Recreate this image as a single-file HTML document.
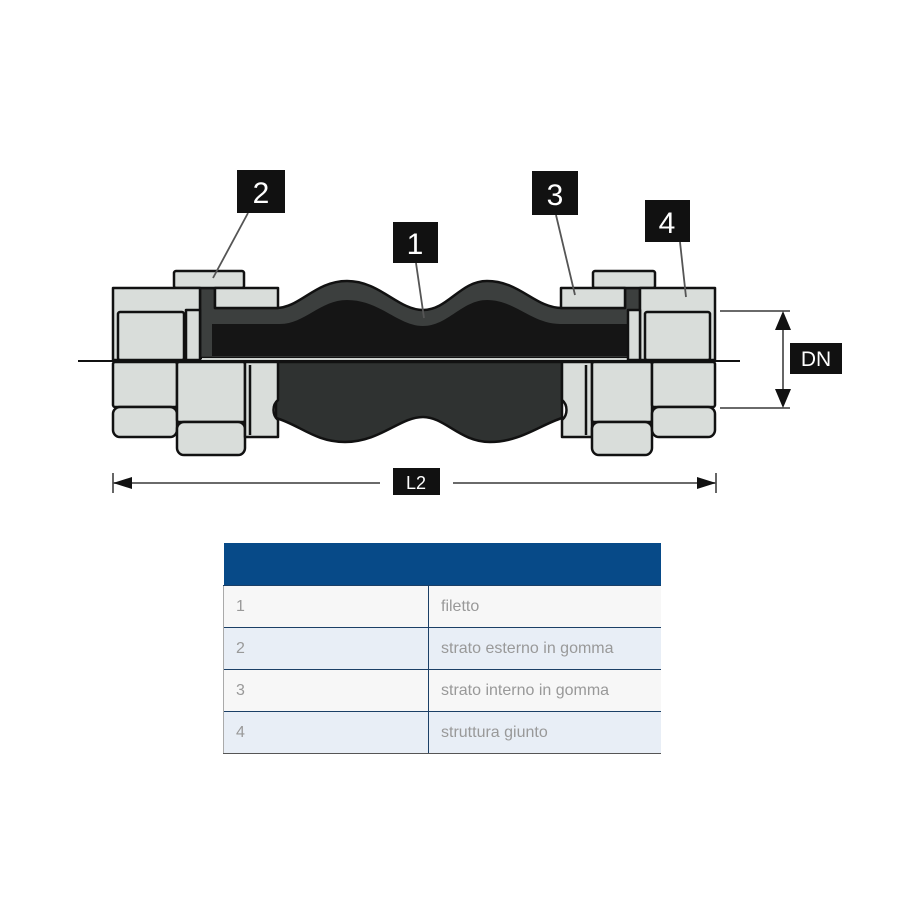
<!DOCTYPE html>
<html><head><style>
body{margin:0;background:#fff;width:900px;height:900px;overflow:hidden;font-family:"Liberation Sans","DejaVu Sans",sans-serif}
svg{position:absolute;left:0;top:0}
.tbl{position:absolute;left:223px;top:543px;width:438px;border-collapse:collapse;font-size:16px;color:#999}
.tbl td{height:41px;padding:0 0 0 12px;border-top:1px solid #1b3f66}
</style></head><body>
<svg width="900" height="900" viewBox="0 0 900 900">
<g stroke="#111" stroke-width="2.5" stroke-linejoin="round">
<line x1="78" y1="361" x2="740" y2="361" stroke-width="2"/>
<path d="M276 362 L562 362 L562 418 C540 425 520 442 490 442 C460 442 445 417 423 417 C400 417 380 442 345 442 C315 442 300 425 276 418 Z" fill="#2f3231"/>
<path d="M200 288 L215 288 L215 308 L276 308 C300 308 315 281 347 281 C380 281 398 310 423 310 C448 310 460 281 487 281 C520 281 535 308 562 308 L625 308 L625 288 L640 288 L640 358 L200 358 Z" fill="#3c3f3e"/>
<path d="M212 324 L280 324 C305 324 320 300 347 300 C380 300 398 326 423 326 C448 326 462 300 487 300 C515 300 532 324 560 324 L632 324 L632 356 L212 356 Z" fill="#151515" stroke="none"/>
<line x1="202" y1="359" x2="638" y2="359" stroke="#cfd3d0" stroke-width="2"/>
</g>
<g fill="#d9ddda" stroke="#111" stroke-width="2.5" stroke-linejoin="round">
<rect x="174" y="271" width="70" height="17" rx="2"/>
<path d="M113 288 L200 288 L200 360 L113 360 Z"/>
<path d="M215 288 L278 288 L278 308 L215 308 Z"/>
<rect x="118" y="312" width="66" height="48" rx="2"/>
<rect x="186" y="310" width="14" height="50"/>
<rect x="113" y="362" width="64" height="45" rx="2"/>
<rect x="113" y="407" width="64" height="30" rx="7"/>
<rect x="177" y="362" width="68" height="60" rx="2"/>
<rect x="177" y="422" width="68" height="33" rx="7"/>
<path d="M245 362 L278 362 L278 400 C272 405 272 415 278 420 L278 437 L245 437 Z"/>
<line x1="250" y1="365" x2="250" y2="435"/>
<rect x="593" y="271" width="62" height="17" rx="2"/>
<path d="M561 288 L625 288 L625 308 L561 308 Z"/>
<path d="M640 288 L715 288 L715 360 L640 360 Z"/>
<rect x="645" y="312" width="65" height="48" rx="2"/>
<rect x="628" y="310" width="12" height="50"/>
<path d="M562 362 L592 362 L592 437 L562 437 L562 420 C568 415 568 405 562 400 Z"/>
<line x1="586" y1="365" x2="586" y2="435"/>
<rect x="592" y="362" width="60" height="60" rx="2"/>
<rect x="592" y="422" width="60" height="33" rx="7"/>
<rect x="652" y="362" width="63" height="45" rx="2"/>
<rect x="652" y="407" width="63" height="30" rx="7"/>
</g>
<g stroke="#555" stroke-width="1.8">
<line x1="248" y1="213" x2="213" y2="278"/>
<line x1="416" y1="263" x2="424" y2="318"/>
<line x1="556" y1="215" x2="575" y2="295"/>
<line x1="680" y1="242" x2="686" y2="297"/>
<line x1="720" y1="311" x2="790" y2="311"/>
<line x1="720" y1="408" x2="790" y2="408"/>
<line x1="783" y1="320" x2="783" y2="400"/>
<line x1="113" y1="483" x2="380" y2="483"/>
<line x1="453" y1="483" x2="716" y2="483"/>
<line x1="113" y1="473" x2="113" y2="493"/>
<line x1="716" y1="473" x2="716" y2="493"/>
</g>
<g fill="#111">
<path d="M783 311 L775 330 L791 330 Z"/><path d="M783 408 L775 389 L791 389 Z"/>
<path d="M113 483 L132 477 L132 489 Z"/><path d="M716 483 L697 477 L697 489 Z"/>
<rect x="237" y="170" width="48" height="43"/>
<rect x="393" y="222" width="45" height="41"/>
<rect x="532" y="171" width="46" height="44"/>
<rect x="645" y="200" width="45" height="42"/>
<rect x="790" y="343" width="52" height="31"/>
<rect x="393" y="468" width="47" height="27"/>
</g>
<g fill="#fff" font-family="Liberation Sans, sans-serif" text-anchor="middle">
<text x="261" y="203" font-size="30">2</text>
<text x="415" y="254" font-size="30">1</text>
<text x="555" y="205" font-size="30">3</text>
<text x="667" y="233" font-size="30">4</text>
<text x="816" y="366" font-size="21">DN</text>
<text x="416" y="489" font-size="18">L2</text>
</g>
</svg>
<table class="tbl">
<tr><td colspan="2" style="background:#074a88;height:42px;border:none"></td></tr>
<tr style="background:#f7f7f7"><td style="width:192px;border-left:1px solid #aaa">1</td><td style="border-left:1px solid #1b3f66">filetto</td></tr>
<tr style="background:#e8eef6"><td style="border-left:1px solid #aaa">2</td><td style="border-left:1px solid #1b3f66">strato esterno in gomma</td></tr>
<tr style="background:#f7f7f7"><td style="border-left:1px solid #aaa">3</td><td style="border-left:1px solid #1b3f66">strato interno in gomma</td></tr>
<tr style="background:#e8eef6"><td style="border-left:1px solid #aaa;border-bottom:1px solid #555">4</td><td style="border-left:1px solid #1b3f66;border-bottom:1px solid #555">struttura giunto</td></tr>
</table>
</body></html>
